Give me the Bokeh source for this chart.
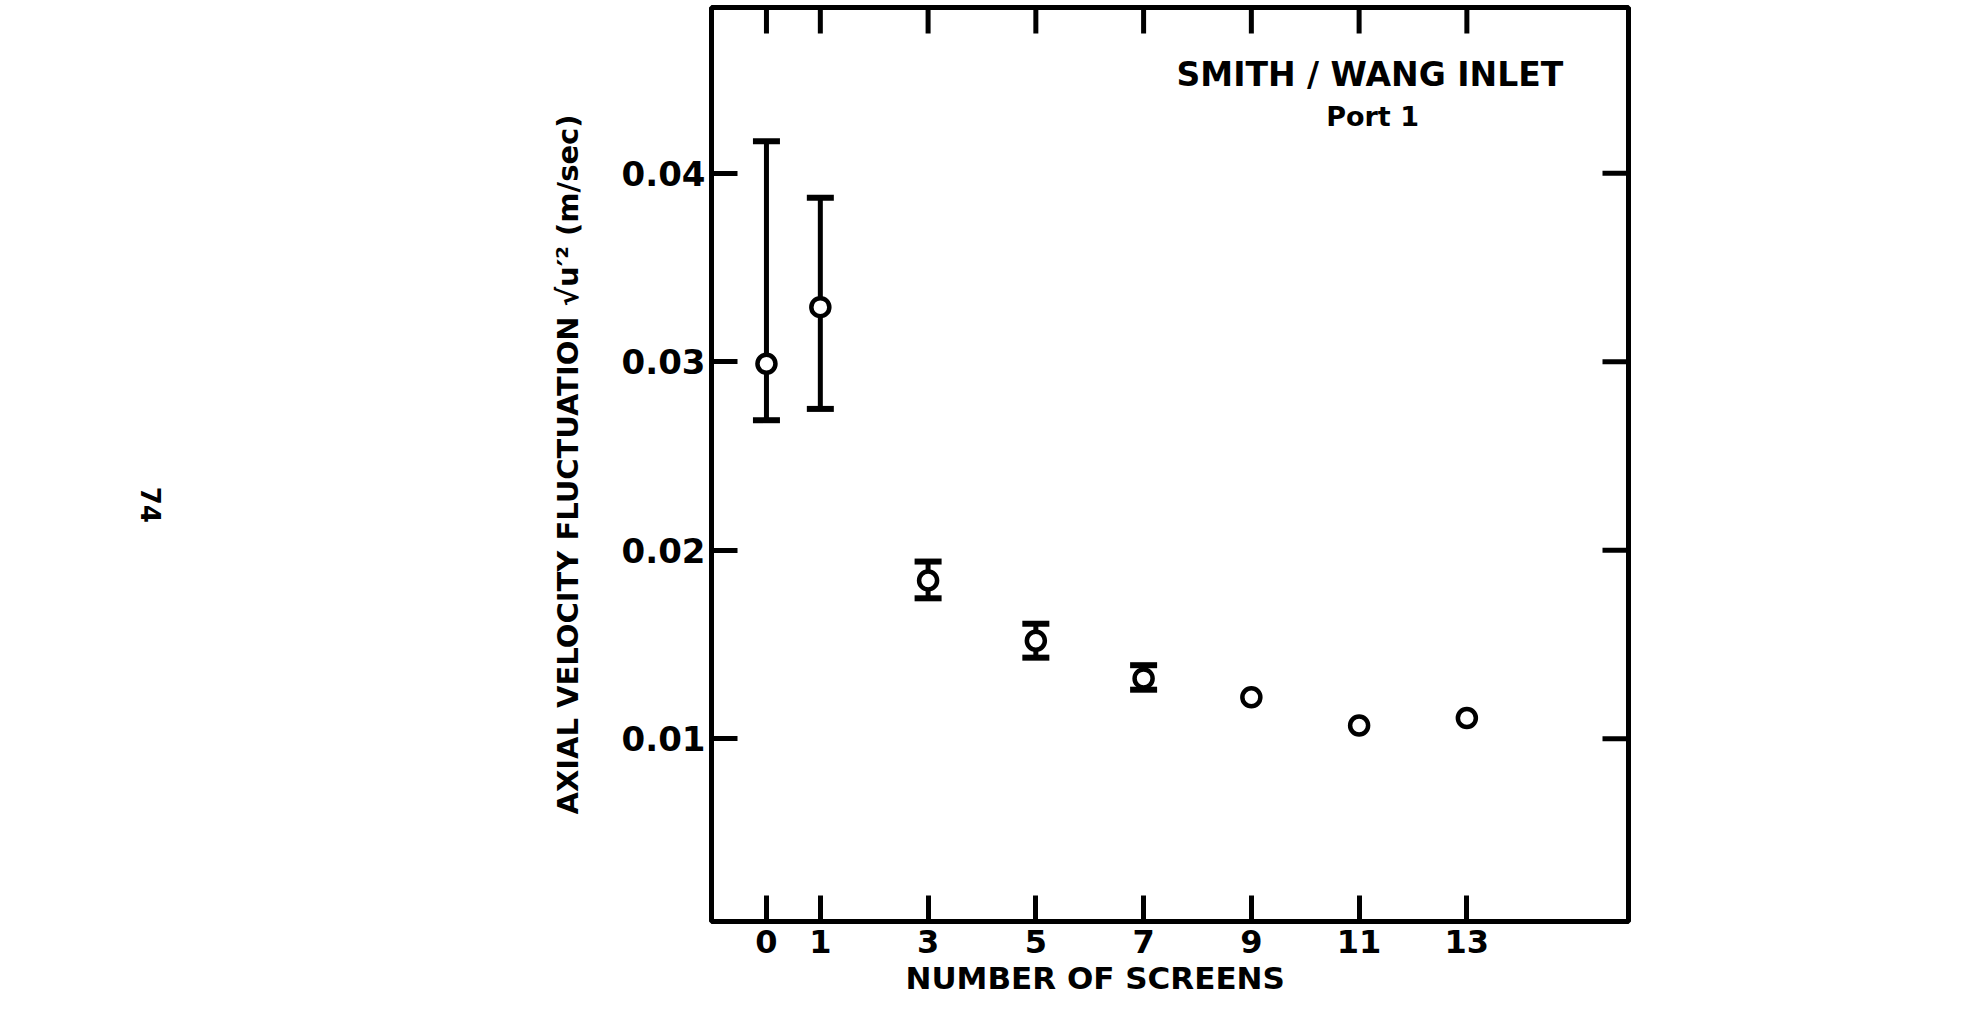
import math
from bokeh.plotting import figure
from bokeh.layouts import row
from bokeh.models import Range1d, FixedTicker, Label, Whisker, TeeHead, ColumnDataSource, Title
from bokeh.embed import file_html
from bokeh.resources import INLINE

# ---- data ----
screens = [0, 1, 3, 5, 7, 9, 11, 13]
fluctuation = [0.0299, 0.0329, 0.0184, 0.0152, 0.0132, 0.0122, 0.0107, 0.0111]

err_screens = [0, 1, 3, 5, 7]
err_upper = [0.0417, 0.0387, 0.0194, 0.0161, 0.0139]
err_lower = [0.0269, 0.0275, 0.01745, 0.0143, 0.0126]

x_ticks = [0, 1, 3, 5, 7, 9, 11, 13]
x_tick_labels = ["0", "1", "3", "5", "7", "9", "11", "13"]
y_ticks = [0.01, 0.02, 0.03, 0.04]
y_tick_labels = ["0.01", "0.02", "0.03", "0.04"]

title_text = "SMITH / WANG INLET"
subtitle_text = "Port 1"
x_label_text = "NUMBER OF SCREENS"
y_label_text = "AXIAL VELOCITY FLUCTUATION \u221au\u2032\u00b2 (m/sec)"
page_number = "74"

FONT = "DejaVu Sans"
X_START, X_END = -1.02, 16.0
Y_START, Y_END = 0.0003, 0.0488
LEFT_W = 300
H = 1006

p = figure(frame_width=917, frame_height=914,
           x_range=Range1d(X_START, X_END), y_range=Range1d(Y_START, Y_END),
           output_backend="svg", toolbar_location=None,
           min_border_left=711 - LEFT_W, min_border_right=20,
           min_border_top=7, min_border_bottom=40)
p.grid.visible = False
p.background_fill_color = "white"
p.border_fill_color = "white"
p.outline_line_color = "black"
p.outline_line_width = 5


def style_axis(ax):
    ax.axis_line_color = None
    ax.major_tick_in = 26
    ax.major_tick_out = 0
    ax.minor_tick_in = 0
    ax.minor_tick_out = 0
    ax.major_tick_line_width = 5
    ax.major_tick_line_color = "black"
    ax.major_label_text_font = FONT
    ax.major_label_text_font_style = "bold"
    ax.major_label_text_color = "black"


xa = p.xaxis[0]
xa.ticker = FixedTicker(ticks=x_ticks)
xa.major_label_overrides = {t: s for t, s in zip(x_ticks, x_tick_labels)}
style_axis(xa)
xa.major_label_text_font_size = "32px"
xa.major_label_standoff = 8

ya = p.yaxis[0]
ya.ticker = FixedTicker(ticks=y_ticks)
ya.major_label_overrides = {t: s for t, s in zip(y_ticks, y_tick_labels)}
style_axis(ya)
ya.major_label_text_font_size = "34px"
ya.major_label_standoff = 6
ya.axis_label = y_label_text
ya.axis_label_text_font = FONT
ya.axis_label_text_font_style = "bold"
ya.axis_label_text_font_size = "29px"
ya.axis_label_text_color = "black"
ya.axis_label_standoff = 34

# x-axis title, set under the numbered ticks
p.add_layout(Title(text=x_label_text, align="left", offset=194, standoff=4,
                   text_font=FONT, text_font_style="bold", text_font_size="31px",
                   text_color="black"), "below")

# inward ticks on the top and right edges, at the tick values
p.ray(x=x_ticks, y=[Y_END] * len(x_ticks), length=26, length_units="screen",
      angle=-math.pi / 2, line_width=5, line_color="black")
p.ray(x=[X_END] * len(y_ticks), y=y_ticks, length=26, length_units="screen",
      angle=math.pi, line_width=5, line_color="black")

# error bars
err_src = ColumnDataSource(dict(x=err_screens, upper=err_upper, lower=err_lower))
whisk = Whisker(base="x", upper="upper", lower="lower", source=err_src,
                line_width=5, line_color="black", level="underlay",
                upper_head=TeeHead(size=27, line_width=6, line_color="black"),
                lower_head=TeeHead(size=27, line_width=6, line_color="black"))
p.add_layout(whisk)

# points
p.scatter(screens, fluctuation, marker="circle", size=18,
          fill_color="white", line_color="black", line_width=4.5)

# texts inside the frame
p.add_layout(Label(x=11.2, y=0.04526, text=title_text, text_align="center",
                   text_baseline="middle", text_font=FONT, text_font_style="bold",
                   text_font_size="33px", text_color="black"))
p.add_layout(Label(x=11.25, y=0.04303, text=subtitle_text, text_align="center",
                   text_baseline="middle", text_font=FONT, text_font_style="bold",
                   text_font_size="27px", text_color="black"))

# left margin panel holding the rotated page number
left = figure(width=LEFT_W, height=H, x_range=Range1d(0, LEFT_W), y_range=Range1d(0, H),
              x_axis_type=None, y_axis_type=None, output_backend="svg",
              toolbar_location=None, min_border=0)
left.grid.visible = False
left.outline_line_color = None
left.background_fill_color = "white"
left.border_fill_color = "white"
left.add_layout(Label(x=150, y=H - 542, text=page_number, angle=-math.pi / 2,
                      text_align="center", text_baseline="middle", text_font=FONT,
                      text_font_style="bold", text_font_size="26px", text_color="black"))

layout = row(left, p, spacing=0)
open("out.html", "w").write(file_html(layout, INLINE))
